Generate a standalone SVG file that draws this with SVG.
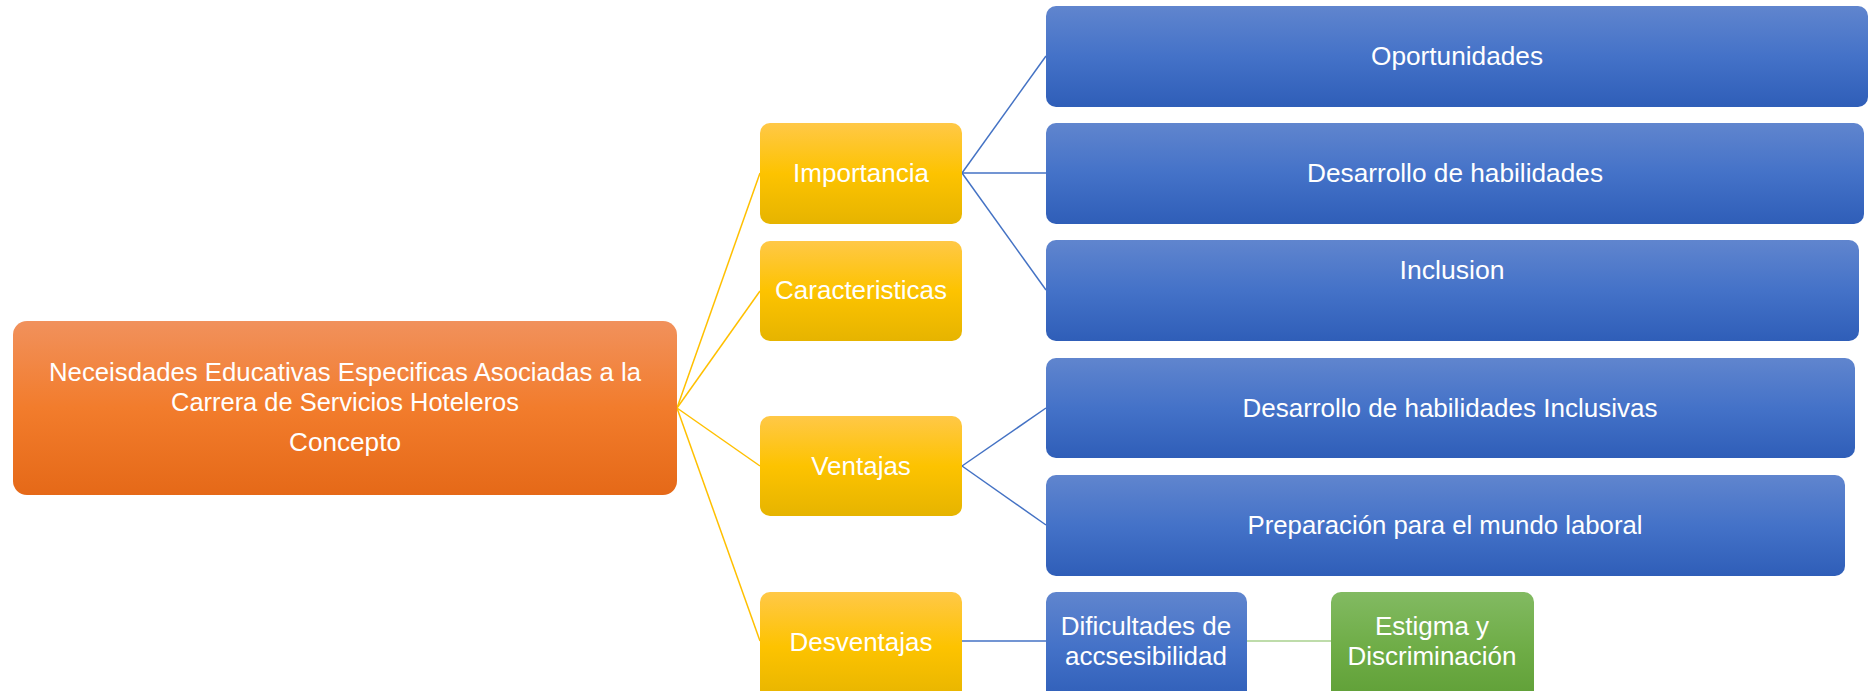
<svg xmlns="http://www.w3.org/2000/svg" width="1870" height="691" viewBox="0 0 1870 691">
<defs>
<linearGradient id="gOr" x1="0" y1="0" x2="0" y2="1"><stop offset="0" stop-color="#F1915C"/><stop offset="0.5" stop-color="#F27C2C"/><stop offset="1" stop-color="#E56918"/></linearGradient>
<linearGradient id="gYe" x1="0" y1="0" x2="0" y2="1"><stop offset="0" stop-color="#FFC847"/><stop offset="0.5" stop-color="#FDC300"/><stop offset="1" stop-color="#E6B400"/></linearGradient>
<linearGradient id="gBl" x1="0" y1="0" x2="0" y2="1"><stop offset="0" stop-color="#6085CE"/><stop offset="0.5" stop-color="#4472C8"/><stop offset="1" stop-color="#2F5EB8"/></linearGradient>
<linearGradient id="gGr" x1="0" y1="0" x2="0" y2="1"><stop offset="0" stop-color="#82BA62"/><stop offset="0.5" stop-color="#6FAD47"/><stop offset="1" stop-color="#5F9F36"/></linearGradient>
</defs>
<style>
.t{font-family:"Liberation Sans","Noto Sans",sans-serif;fill:#fff;font-size:26px;text-anchor:middle}
.n{font-family:"Liberation Sans Narrow","Liberation Sans",sans-serif}
.ly{stroke:#FFC000;stroke-width:1.5;fill:none}
.lb{stroke:#4472C4;stroke-width:1.5;fill:none}
.lg{stroke:#A9D18E;stroke-width:1.5;fill:none}
</style>
<rect width="1870" height="691" fill="#fff"/>
<g id="connectors">
<line class="ly" x1="677" y1="408" x2="760" y2="173"/>
<line class="ly" x1="677" y1="408" x2="760" y2="291"/>
<line class="ly" x1="677" y1="408" x2="760" y2="466"/>
<line class="ly" x1="677" y1="408" x2="760" y2="641"/>
<line class="lb" x1="962" y1="173" x2="1046" y2="56"/>
<line class="lb" x1="962" y1="173" x2="1046" y2="173"/>
<line class="lb" x1="962" y1="173" x2="1046" y2="290"/>
<line class="lb" x1="962" y1="466" x2="1046" y2="408"/>
<line class="lb" x1="962" y1="466" x2="1046" y2="525"/>
<line class="lb" x1="962" y1="641" x2="1046" y2="641"/>
<line class="lg" x1="1247" y1="641" x2="1331" y2="641"/>
</g>
<g id="root">
<rect x="13" y="321" width="664" height="174" rx="14" fill="url(#gOr)"/>
<text class="t n" x="345" y="381" textLength="592" lengthAdjust="spacingAndGlyphs">Neceisdades Educativas Especificas Asociadas a la</text>
<text class="t n" x="345" y="411" textLength="348" lengthAdjust="spacingAndGlyphs">Carrera de Servicios Hoteleros</text>
<text class="t n" x="345" y="451" textLength="112" lengthAdjust="spacingAndGlyphs">Concepto</text>
</g>
<g id="importancia">
<rect x="760" y="123" width="202" height="101" rx="10" fill="url(#gYe)"/>
<text class="t" x="861" y="182">Importancia</text>
</g>
<g id="caracteristicas">
<rect x="760" y="241" width="202" height="100" rx="10" fill="url(#gYe)"/>
<text class="t" x="861" y="299">Caracteristicas</text>
</g>
<g id="ventajas">
<rect x="760" y="416" width="202" height="100" rx="10" fill="url(#gYe)"/>
<text class="t" x="861" y="475">Ventajas</text>
</g>
<g id="desventajas">
<rect x="760" y="592" width="202" height="110" rx="10" fill="url(#gYe)"/>
<text class="t" x="861" y="651">Desventajas</text>
</g>
<g id="oportunidades">
<rect x="1046" y="6" width="822" height="101" rx="10" fill="url(#gBl)"/>
<text class="t n" x="1457" y="65" textLength="172" lengthAdjust="spacingAndGlyphs">Oportunidades</text>
</g>
<g id="desarrollo">
<rect x="1046" y="123" width="818" height="101" rx="10" fill="url(#gBl)"/>
<text class="t n" x="1455" y="182" textLength="296" lengthAdjust="spacingAndGlyphs">Desarrollo de habilidades</text>
</g>
<g id="inclusion">
<rect x="1046" y="240" width="813" height="101" rx="10" fill="url(#gBl)"/>
<text class="t n" x="1452" y="279" textLength="105" lengthAdjust="spacingAndGlyphs">Inclusion</text>
</g>
<g id="desarrollo-inclusivas">
<rect x="1046" y="358" width="809" height="100" rx="10" fill="url(#gBl)"/>
<text class="t n" x="1450" y="417" textLength="415" lengthAdjust="spacingAndGlyphs">Desarrollo de habilidades Inclusivas</text>
</g>
<g id="preparacion">
<rect x="1046" y="475" width="799" height="101" rx="10" fill="url(#gBl)"/>
<text class="t n" x="1445" y="534" textLength="395" lengthAdjust="spacingAndGlyphs">Preparación para el mundo laboral</text>
</g>
<g id="dificultades">
<rect x="1046" y="592" width="201" height="110" rx="10" fill="url(#gBl)"/>
<text class="t" x="1146" y="635">Dificultades de</text>
<text class="t" x="1146" y="665">accsesibilidad</text>
</g>
<g id="estigma">
<rect x="1331" y="592" width="203" height="110" rx="10" fill="url(#gGr)"/>
<text class="t" x="1432" y="635">Estigma y</text>
<text class="t" x="1432" y="665">Discriminación</text>
</g>
</svg>
